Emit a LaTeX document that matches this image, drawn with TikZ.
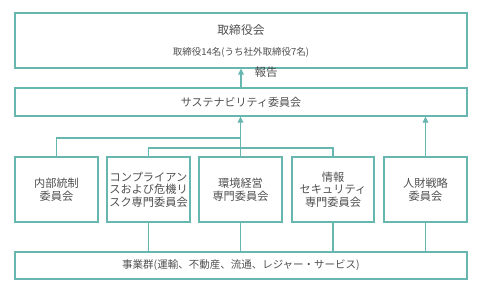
\documentclass[tikz,border=0pt]{standalone}
\usepackage{fontspec}
\setmainfont{Noto Sans CJK JP}
\usetikzlibrary{arrows.meta}
\definecolor{teal1}{RGB}{104,182,176}
\definecolor{txt}{RGB}{80,80,80}
\tikzset{
  box/.style={draw=teal1,line width=1.1pt,fill=white,inner sep=0pt,text=txt,align=center,font=\fontsize{11.2}{12.6}\selectfont},
  conn/.style={draw=teal1,line width=1.1pt},
  arr/.style={conn,-{Triangle[width=5.5pt,length=6pt]}},
}
\begin{document}
\begin{tikzpicture}[x=1pt,y=-1pt]
\useasboundingbox (0,0) rectangle (480,290);
\node[box,minimum width=452pt,minimum height=55pt] (top) at (241,40.5) {};
\node[text=txt,font=\fontsize{11.8}{13}\selectfont] (toptitle) at (241,30) {取締役会};
\node[text=txt,font=\fontsize{9.5}{11}\selectfont] (topsub) at (241,52.5) {取締役14名(うち社外取締役7名)};
\node[box,font=\fontsize{11}{13}\selectfont,minimum width=452pt,minimum height=28pt] (sust) at (241,102) {サステナビリティ委員会};
\node[box,minimum width=83pt,minimum height=65pt] (b1) at (56.5,189.5) {内部統制\\委員会};
\node[box,minimum width=83pt,minimum height=65pt] (b2) at (148.5,189.5) {コンプライアン\\スおよび危機リ\\スク専門委員会};
\node[box,minimum width=83pt,minimum height=65pt] (b3) at (240.5,189.5) {環境経営\\専門委員会};
\node[box,minimum width=82pt,minimum height=65pt] (b4) at (333,189.5) {情報\\セキュリティ\\専門委員会};
\node[box,minimum width=83pt,minimum height=65pt] (b5) at (425.5,189.5) {人財戦略\\委員会};
\node[box,font=\fontsize{10.5}{12}\selectfont,minimum width=452pt,minimum height=27pt] (biz) at (241,265.5) {事業群(運輸、不動産、流通、レジャー・サービス)};
\coordinate (h1) at (240.5,138);
\coordinate (h2) at (240.5,148);
\draw[arr] (sust.north) -- (top.south);
\node[text=txt,font=\fontsize{11.5}{13}\selectfont,anchor=west] (rep) at (251,72.5) {報告};
\draw[arr] (b3.north) -- (b3.north |- sust.south);
\draw[conn] (b1.north) |- (h1);
\draw[conn] (b2.north) |- (h2) -| (b4.north);
\draw[arr] (b5.north) -- (b5.north |- sust.south);
\draw[conn] (b2.south) -- (b2.south |- biz.north);
\draw[conn] (b3.south) -- (b3.south |- biz.north);
\draw[conn] (b4.south) -- (b4.south |- biz.north);
\draw[conn] (b5.south) -- (b5.south |- biz.north);
\end{tikzpicture}
\end{document}
